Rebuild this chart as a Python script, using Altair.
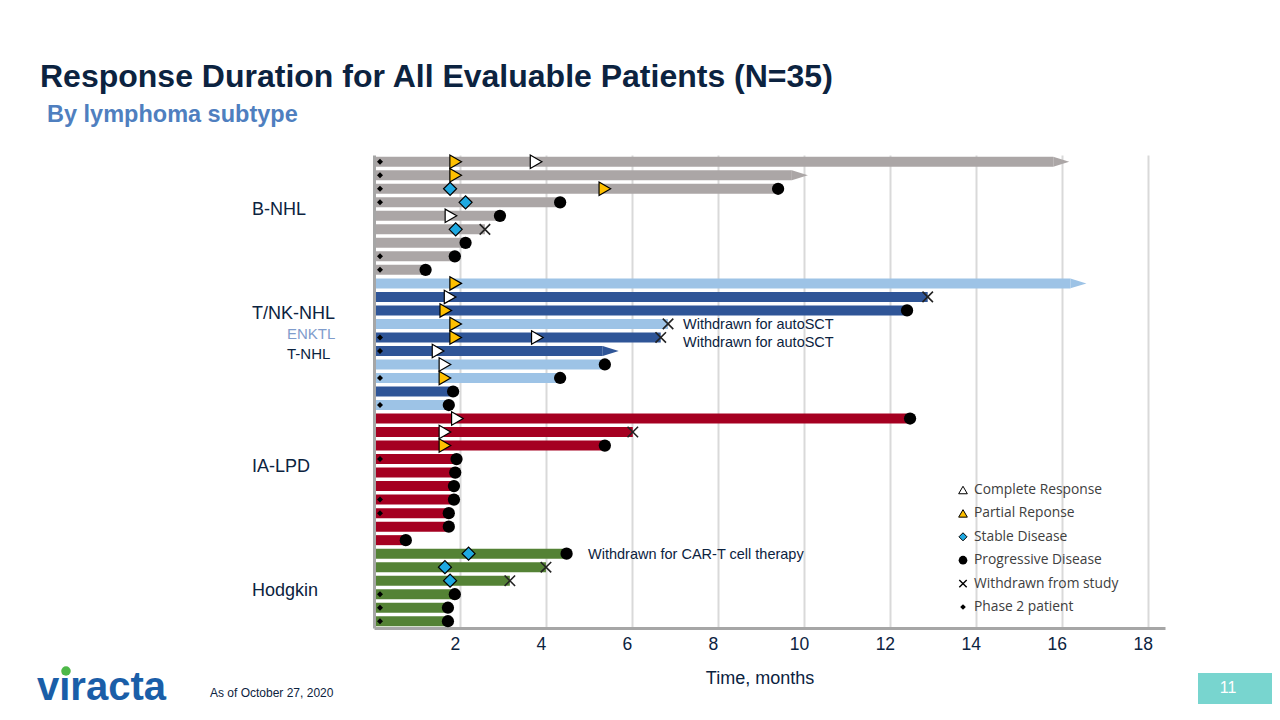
import altair as alt
import pandas as pd

# ---------------- data ----------------
rows = list(range(1, 36))
subtypes = (["B-NHL"] * 9
            + ["ENKTL", "T-NHL", "T-NHL", "ENKTL", "T-NHL", "T-NHL", "ENKTL", "ENKTL", "T-NHL", "ENKTL"]
            + ["IA-LPD"] * 10
            + ["Hodgkin"] * 6)
ends = [15.8, 9.72, 9.4, 4.33, 2.93, 2.58, 2.13, 1.88, 1.2,
        16.2, 12.88, 12.4, 6.84, 6.67, 5.32, 5.37, 4.33, 1.84, 1.74,
        12.47, 6.02, 5.37, 1.92, 1.89, 1.86, 1.86, 1.74, 1.74, 0.74,
        4.48, 4.0, 3.16, 1.88, 1.72, 1.72]
ongoing_rows = [1, 2, 10, 15]

phase2_rows = [1, 2, 3, 4, 8, 9, 14, 15, 17, 19, 23, 26, 27, 33, 34, 35]
phase2_time = 0.14

cr_rows = [1, 5, 11, 14, 15, 16, 20, 21]
cr_vals = [3.77, 1.79, 1.77, 3.8, 1.49, 1.65, 1.94, 1.65]

pr_rows = [1, 2, 3, 10, 12, 13, 14, 17, 22]
pr_vals = [1.9, 1.9, 5.37, 1.9, 1.67, 1.9, 1.9, 1.65, 1.65]

sd_rows = [3, 4, 6, 30, 31, 32]
sd_vals = [1.77, 2.13, 1.9, 2.2, 1.65, 1.77]

pd_rows = [3, 4, 5, 7, 8, 9, 12, 16, 17, 18, 19, 20, 22, 23, 24, 25, 26, 27, 28, 29, 30, 33, 34, 35]
pd_vals = [9.4, 4.33, 2.93, 2.13, 1.88, 1.2, 12.4, 5.37, 4.33, 1.84, 1.74, 12.47, 5.37, 1.92, 1.89,
           1.86, 1.86, 1.74, 1.74, 0.74, 4.48, 1.88, 1.72, 1.72]

wd_rows = [6, 11, 13, 14, 21, 31, 32]
wd_vals = [2.58, 12.88, 6.84, 6.67, 6.02, 4.0, 3.16]

x_ticks = [2, 4, 6, 8, 10, 12, 14, 16, 18]
subtype_domain = ["B-NHL", "ENKTL", "T-NHL", "IA-LPD", "Hodgkin"]
subtype_colors = ["#aba6a6", "#9dc3e6", "#2f5597", "#a50021", "#548235"]

legend_labels = ["Complete Response", "Partial Reponse", "Stable Disease",
                 "Progressive Disease", "Withdrawn from study", "Phase 2 patient"]

# ---------------- styling ----------------
W, H = 791, 473
FONT = "Liberation Sans"
NAVY = "#0c2340"
X_PATH = "M-1,-1L1,1M-1,1L1,-1"
ARROW_PATH = "M-1,-0.62L1,0L-1,0.62Z"

bars = pd.DataFrame({"row": rows, "subtype": subtypes, "end": ends})
arrows = bars[bars["row"].isin(ongoing_rows)]


def ev(r, v):
    return pd.DataFrame({"row": r, "x": v})


xs = alt.Scale(domain=[0, 18.4], nice=False, zero=False)
ys = alt.Scale(type="band", domain=rows, paddingInner=0.26, paddingOuter=0.13)

X_end = alt.X("end:Q", scale=xs, axis=alt.Axis(
    values=x_ticks, grid=True, gridColor="#d9d9d9", gridWidth=2, ticks=False,
    domainColor="#a6a6a6", domainWidth=3, labelFontSize=17.5, labelColor=NAVY,
    labelFont=FONT, labelPadding=7, labelOffset=-5, title=None))
Y = alt.Y("row:O", scale=ys, axis=alt.Axis(
    labels=False, ticks=False, grid=False, title=None, domainColor="#a6a6a6",
    domainWidth=3, zindex=1))
color = alt.Color("subtype:N", scale=alt.Scale(domain=subtype_domain, range=subtype_colors), legend=None)

layers = []
layers.append(alt.Chart(bars).mark_bar().encode(x=X_end, y=Y, color=color))
layers.append(alt.Chart(arrows).mark_point(shape=ARROW_PATH, filled=True, size=256, xOffset=8, opacity=1)
              .encode(x=alt.X("end:Q", scale=xs), y=alt.Y("row:O", scale=ys), color=color))

Xe = alt.X("x:Q", scale=xs)
Ye = alt.Y("row:O", scale=ys)

layers.append(alt.Chart(ev(wd_rows, wd_vals)).mark_point(
    shape=X_PATH, filled=False, size=110, stroke="#222222", strokeWidth=1.6, opacity=1).encode(x=Xe, y=Ye))
layers.append(alt.Chart(ev(pd_rows, pd_vals)).mark_point(
    shape="circle", filled=True, size=150, color="black", opacity=1).encode(x=Xe, y=Ye))
layers.append(alt.Chart(ev(sd_rows, sd_vals)).mark_point(
    shape="diamond", filled=True, size=170, fill="#1fa9e1", stroke="black", strokeWidth=1.2, opacity=1).encode(x=Xe, y=Ye))
layers.append(alt.Chart(ev(pr_rows, pr_vals)).mark_point(
    shape="triangle-right", filled=True, size=180, fill="#ffc000", stroke="black", strokeWidth=1.2, opacity=1).encode(x=Xe, y=Ye))
layers.append(alt.Chart(ev(cr_rows, cr_vals)).mark_point(
    shape="triangle-right", filled=True, size=180, fill="white", stroke="black", strokeWidth=1.2, opacity=1).encode(x=Xe, y=Ye))
layers.append(alt.Chart(ev(phase2_rows, [phase2_time] * len(phase2_rows))).mark_point(
    shape="diamond", filled=True, size=36, color="black", opacity=1).encode(x=Xe, y=Ye))


def txt(s, x, y, size, color=NAVY, weight="normal", align="left", baseline="middle", font=FONT):
    return alt.Chart(alt.Data(values=[{}])).mark_text(
        align=align, baseline=baseline, fontSize=size, fontWeight=weight, color=color, font=font
    ).encode(x=alt.value(x), y=alt.value(y), text=alt.value(s))


# titles
layers.append(txt("Response Duration for All Evaluable Patients (N=35)", -334, -68, 32, NAVY, "bold", baseline="alphabetic"))
layers.append(txt("By lymphoma subtype", -327, -33, 23.5, "#4f7fbf", "bold", baseline="alphabetic"))

# group labels
layers.append(txt("B-NHL", -122, 55, 18))
layers.append(txt("T/NK-NHL", -122, 159, 18))
layers.append(txt("ENKTL", -87, 179, 15, "#7f9ccc"))
layers.append(txt("T-NHL", -87, 199, 15))
layers.append(txt("IA-LPD", -122, 312, 18))
layers.append(txt("Hodgkin", -122, 436, 18))

# annotations
layers.append(txt("Withdrawn for autoSCT", 309, 170, 14.5))
layers.append(txt("Withdrawn for autoSCT", 309, 188, 14.5))
layers.append(txt("Withdrawn for CAR-T cell therapy", 214, 400, 14.5))

# axis title
layers.append(txt("Time, months", 386, 524, 18, align="center"))

# legend
leg_shapes = ["triangle-up", "triangle-up", "diamond", "circle", X_PATH, "diamond"]
leg_fills = ["white", "#ffc000", "#1fa9e1", "black", None, "black"]
leg_sizes = [75, 75, 65, 75, 55, 32]
for i, lab in enumerate(legend_labels):
    ly = 335 + 23.4 * i
    shp = leg_shapes[i]
    if leg_fills[i] is None:
        sym = alt.Chart(alt.Data(values=[{}])).mark_point(
            shape=shp, filled=False, size=leg_sizes[i], stroke="black", strokeWidth=1.4, opacity=1)
    elif leg_fills[i] == "black":
        sym = alt.Chart(alt.Data(values=[{}])).mark_point(
            shape=shp, filled=True, size=leg_sizes[i], color="black", opacity=1)
    else:
        sym = alt.Chart(alt.Data(values=[{}])).mark_point(
            shape=shp, filled=True, size=leg_sizes[i], fill=leg_fills[i], stroke="black", strokeWidth=1, opacity=1)
    layers.append(sym.encode(x=alt.value(589), y=alt.value(ly)))
    layers.append(txt(lab, 600, ly, 13.8, "#404040", font="Open Sans"))

# footer
layers.append(txt("viracta", -337, 545, 40, "#1a5ea8", "bold", baseline="alphabetic"))
layers.append(alt.Chart(alt.Data(values=[{}])).mark_point(
    shape="circle", filled=True, size=90, color="#4db848", opacity=1).encode(x=alt.value(-308), y=alt.value(516)))
layers.append(txt("As of October 27, 2020", -164, 538, 12))
layers.append(alt.Chart(alt.Data(values=[{}])).mark_rect(color="#78d5cf").encode(
    x=alt.value(824), x2=alt.value(910), y=alt.value(518), y2=alt.value(549)))
layers.append(txt("11", 854, 533, 16, "white", align="center"))

chart = alt.layer(*layers).properties(
    width=W, height=H,
    padding={"left": 366, "top": 147, "right": 107, "bottom": 84},
    autosize=alt.AutoSizeParams(type="none"),
).configure_view(stroke=None)

chart.save("out.html", embed_options={"renderer": "svg", "actions": False})
